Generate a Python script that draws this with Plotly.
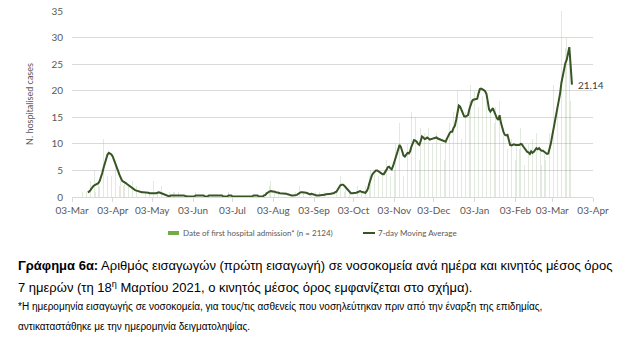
import pandas as pd
import plotly.graph_objects as go

# ---------------- data ----------------
# Daily number of first hospital admissions, per month
daily_mar20 = [1,0,1,0,2,1,1,2,3,1, 4,5,1,2,3,2,5,4,11,6, 10,4,9]            # from 2020-03-09
daily_apr20 = [12,4,9,5,6,3,5,2,3,4, 2,3,1,4,2,1,2,3,1,0, 2,1,1,0,1,2,0,1,1,0]
daily_may20 = [1,0,1,3,0,1,1,1,0,2, 0,0,0,0,0,1,0,0,1,1, 0,0,1,0,0,0,0,0,0,1, 0]
daily_jun20 = [0,0,0,0,1,0,0,0,1,0, 0,0,0,0,1,0,0,0,1,0, 0,1,0,0,0,0,0,0,0,1]
daily_jul20 = [0,1,0,0,0,0,0,0,0,0, 0,0,0,0,0,0,0,1,0,0, 1,0,0,0,0,0,1,1,2,1, 2]
daily_aug20 = [3,1,2,1,0,1,1,0,1,0, 1,1,0,0,1,0,0,0,0,1, 1,1,2,1,1,1,0,1,0,1, 0]
daily_sep20 = [1,0,0,1,0,0,1,0,1,0, 1,0,1,0,1,1,0,1,2,1, 3,2,4,3,2,1,2,0,1,1]
daily_oct20 = [0,1,0,1,1,2,1,0,1,1, 0,2,1,3,4,5,4,6,5,3, 6,4,5,3,4,5,6,7,5,7, 4]
daily_nov20 = [6,9,5,10,8,12,14,5,8,4, 9,8,10,6,11,16,9,12,15,8, 10,7,13,14,9,12,11,10,13,9]
daily_dec20 = [12,10,13,9,12,11,8,10,12,9, 7,11,13,12,14,10,13,16,12,15, 20,26,14,11,17,13,16,15,14,18, 21]
daily_jan21 = [19,16,20,18,30,17,22,21,19,20, 24,18,24,14,16,19,13,14,17,15, 12,18,9,10,13,11,12,9,10,8, 11]
daily_feb21 = [9,12,7,10,11,9,13,8,10,6, 9,5,10,7,9,11,3,8,12,7, 10,9,6,10,8,7,9,11]
daily_mar21 = [12,14,10,21,13,20,17,22,21,35, 24,26,28,30,34,27,18,11]

# 7-day moving average, per month
ma_mar20 = [0.9,1.0,1.3,1.7,2.0,2.2,2.3,2.4,2.6,3.0,3.6,4.5,5.5,6.5,7.4,8.0,8.3]   # from 2020-03-15
ma_apr20 = [8.2,8.0,7.6,7.0,6.3,5.6,4.9,4.2,3.6,3.1, 2.9,2.8,2.6,2.4,2.2,2.0,1.8,1.6,1.4,1.3,
            1.2,1.1,1.0,1.0,0.9,0.9,0.9,0.8,0.8,0.8]
ma_may20 = [0.7,0.7,0.7,0.7,0.6,0.7,0.8,0.9,0.8,0.7, 0.6,0.4,0.3,0.2,0.1,0.1,0.3,0.3,0.4,0.4,
            0.3,0.3,0.4,0.4,0.3,0.3,0.3,0.2,0.1,0.1, 0.1]
ma_jun20 = [0.1,0.1,0.1,0.1,0.3,0.3,0.3,0.3,0.3,0.3, 0.3,0.1,0.1,0.1,0.3,0.3,0.3,0.3,0.3,0.3,
            0.3,0.3,0.3,0.3,0.3,0.1,0.1,0.1,0.1,0.3]
ma_jul20 = [0.3,0.3,0.1,0.1,0.1,0.0,0.0,0.0,0.0,0.0, 0.0,0.0,0.0,0.0,0.0,0.1,0.1,0.1,0.3,0.3,
            0.3,0.3,0.1,0.1,0.1,0.1,0.3,0.4,0.7,0.9, 1.0]
ma_aug20 = [1.1,1.1,1.0,1.0,0.9,0.9,0.8,0.7,0.7,0.7, 0.6,0.6,0.6,0.5,0.4,0.4,0.3,0.3,0.3,0.3,
            0.4,0.6,0.8,0.9,0.9,0.9,0.9,0.8,0.7,0.6, 0.5]
ma_sep20 = [0.6,0.5,0.4,0.4,0.3,0.3,0.3,0.4,0.4,0.4, 0.4,0.5,0.5,0.5,0.6,0.6,0.7,0.7,0.9,1.0,
            1.4,1.8,2.2,2.3,2.3,2.1,1.8,1.4,1.1,0.9]
ma_oct20 = [0.7,0.7,0.7,0.7,0.8,0.9,1.0,1.1,1.0,0.9, 0.8,0.8,1.1,1.6,2.6,3.5,4.1,4.5,4.8,5.0,
            5.0,4.8,4.7,4.5,4.3,4.3,4.6,5.1,5.6,5.7, 5.4]
ma_nov20 = [5.2,5.8,6.6,7.5,8.3,9.0,9.8,9.4,8.6,7.8, 7.6,8.0,8.3,8.2,8.6,9.5,10.3,10.7,10.6,10.4,
            10.0,9.8,10.5,11.4,11.2,10.9,11.0,11.2,11.0,10.8]
ma_dec20 = [10.9,11.0,11.1,11.2,11.2,11.0,10.9,10.8,10.6,10.5, 10.4,10.4,11.0,11.7,12.0,12.3,12.3,13.0,13.4,14.5,
            16.0,17.2,17.0,16.3,15.5,15.2,15.1,15.3,15.4,16.5, 17.5]
ma_jan21 = [18.0,18.3,18.4,18.5,18.5,19.5,20.3,20.4,20.3,20.1, 19.9,19.4,18.0,16.5,16.1,16.5,16.7,16.0,15.2,14.8,
            14.5,15.4,14.0,12.9,12.2,11.7,11.6,11.7,10.8,9.8, 9.7]
ma_feb21 = [9.8,9.9,9.8,9.8,9.7,9.8,10.0,9.9,9.5,9.1, 8.7,8.5,8.4,8.1,8.6,8.3,8.5,8.9,9.2,9.0,
            9.2,8.9,8.7,8.7,8.5,8.3,8.1,8.2]
ma_mar21 = [9.0,10.1,11.5,12.8,14.0,15.1,16.5,18.0,19.5,21.5, 23.0,24.0,25.2,25.8,27.0,28.2,24.8,21.14]

daily_starts = ["2020-03-09","2020-04-01","2020-05-01","2020-06-01","2020-07-01","2020-08-01","2020-09-01",
                "2020-10-01","2020-11-01","2020-12-01","2021-01-01","2021-02-01","2021-03-01"]
ma_starts = ["2020-03-15"] + daily_starts[1:]
daily_months = [daily_mar20, daily_apr20, daily_may20, daily_jun20, daily_jul20, daily_aug20, daily_sep20,
                daily_oct20, daily_nov20, daily_dec20, daily_jan21, daily_feb21, daily_mar21]
ma_months = [ma_mar20, ma_apr20, ma_may20, ma_jun20, ma_jul20, ma_aug20, ma_sep20,
             ma_oct20, ma_nov20, ma_dec20, ma_jan21, ma_feb21, ma_mar21]

tick_dates = ["2020-03-03","2020-04-03","2020-05-03","2020-06-03","2020-07-03","2020-08-03","2020-09-03",
              "2020-10-03","2020-11-03","2020-12-03","2021-01-03","2021-02-03","2021-03-03","2021-04-03"]
tick_labels = ["03-Mar","03-Apr","03-May","03-Jun","03-Jul","03-Aug","03-Sep",
               "03-Oct","03-Nov","03-Dec","03-Jan","03-Feb","03-Mar","03-Apr"]

bar_name = "Date of first hospital admission* (n = 2124)"
line_name = "7-day Moving Average"
last_label = "21.14"

# ---------------- build series ----------------
def build(starts, months):
    xs, ys = [], []
    for s, vals in zip(starts, months):
        xs += list(pd.date_range(s, periods=len(vals), freq="D"))
        ys += vals
    return xs, ys

bx, by = build(daily_starts, daily_months)
lx, ly = build(ma_starts, ma_months)

W, H = 641, 348
L, R, T, B = 72, 48, 11, 151
PW, PH = W - L - R, H - T - B

def px(xp):
    return (xp - L) / PW

def py(yp):
    return (H - B - yp) / PH

BAR_C = "#70AD47"
BAR_FAINT = "rgba(150,175,135,0.28)"
LINE_C = "#375623"
GRID_C = "#D9D9D9"
TXT_C = "#595959"

fig = go.Figure()
fig.add_trace(go.Bar(x=bx, y=by, width=0.3 * 86400000, marker_color=BAR_FAINT,
                     marker_line_width=0, name=bar_name, showlegend=False))
fig.add_trace(go.Scatter(x=lx, y=ly, mode="lines", line=dict(color=LINE_C, width=2),
                         name=line_name, showlegend=False))

fig.update_layout(
    width=W, height=H, margin=dict(l=L, r=R, t=T, b=B, autoexpand=False),
    paper_bgcolor="white", plot_bgcolor="white",
    font=dict(family="Lato, sans-serif", color=TXT_C, size=10),
    bargap=0,
    xaxis=dict(type="date", range=["2020-03-03", "2021-04-03"],
               tickvals=tick_dates, ticktext=tick_labels,
               showgrid=False, showline=True, linecolor=GRID_C, linewidth=1,
               ticks="outside", ticklen=4, tickcolor=GRID_C,
               tickfont=dict(size=10, color=TXT_C), zeroline=False),
    yaxis=dict(range=[0, 35], dtick=5, showgrid=True, gridcolor=GRID_C, gridwidth=1,
               zeroline=False, showline=False, ticks="", ticklabelstandoff=8,
               tickfont=dict(size=10, color=TXT_C),
               title=dict(text="N. hospitalised cases", font=dict(size=9, color=TXT_C), standoff=16)),
)

fig.add_annotation(x=lx[-1], y=ly[-1], text=last_label, showarrow=False, xanchor="left",
                   xshift=4, font=dict(size=10, color="#404040"))

# legend (manual)
leg_y = py(233)
fig.add_shape(type="rect", xref="paper", yref="paper", x0=px(168), x1=px(179),
              y0=py(235), y1=py(231), fillcolor=BAR_C, line_width=0)
fig.add_annotation(xref="paper", yref="paper", x=px(181), y=leg_y, text=bar_name, showarrow=False,
                   xanchor="left", yanchor="middle", font=dict(size=8, color=TXT_C))
fig.add_shape(type="line", xref="paper", yref="paper", x0=px(363), x1=px(375),
              y0=leg_y, y1=leg_y, line=dict(color=LINE_C, width=2))
fig.add_annotation(xref="paper", yref="paper", x=px(376), y=leg_y, text=line_name, showarrow=False,
                   xanchor="left", yanchor="middle", font=dict(size=8, color=TXT_C))

# caption
cap_font = "Liberation Sans, Arial, sans-serif"
fig.add_annotation(xref="paper", yref="paper", x=px(16), y=py(265), xanchor="left", yanchor="middle",
                   showarrow=False, font=dict(family=cap_font, size=13, color="black"),
                   text="<b>Γράφημα 6α:</b> Αριθμός εισαγωγών (πρώτη εισαγωγή) σε νοσοκομεία ανά ημέρα και κινητός μέσος όρος")
fig.add_annotation(xref="paper", yref="paper", x=px(16), y=py(287), xanchor="left", yanchor="middle",
                   showarrow=False, font=dict(family=cap_font, size=13, color="black"),
                   text="7 ημερών (τη 18<sup>η</sup> Μαρτίου 2021, ο κινητός μέσος όρος εμφανίζεται στο σχήμα).")
fig.add_annotation(xref="paper", yref="paper", x=px(16), y=py(307), xanchor="left", yanchor="middle",
                   showarrow=False, font=dict(family=cap_font, size=10, color="black"),
                   text="*Η ημερομηνία εισαγωγής σε νοσοκομεία, για τους/τις ασθενείς που νοσηλεύτηκαν πριν από την έναρξη της επιδημίας,")
fig.add_annotation(xref="paper", yref="paper", x=px(16), y=py(326), xanchor="left", yanchor="middle",
                   showarrow=False, font=dict(family=cap_font, size=10, color="black"),
                   text="αντικαταστάθηκε με την ημερομηνία δειγματοληψίας.")

fig.write_html("out.html")
